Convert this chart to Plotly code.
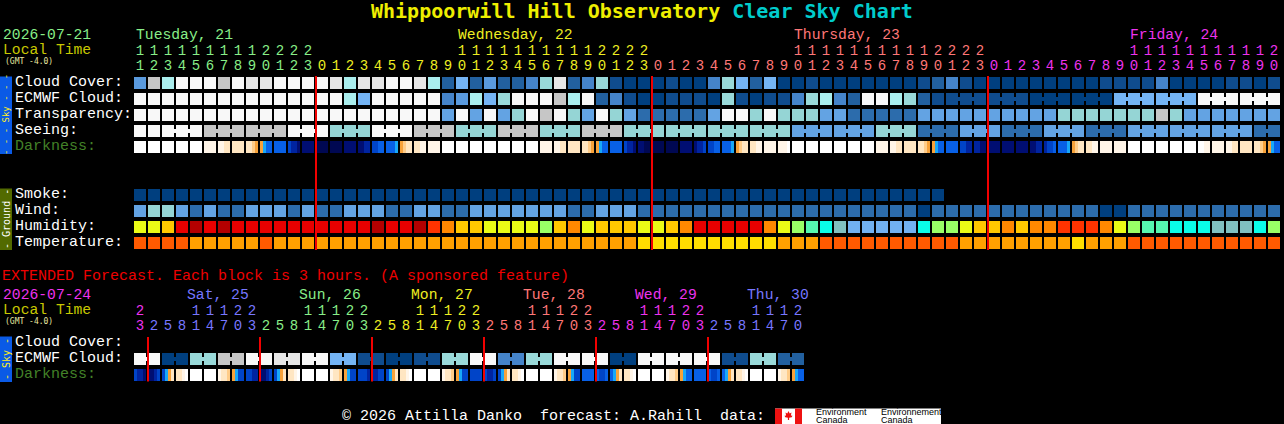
import plotly.graph_objects as go

# ---------------- data ----------------
TITLE_SITE = "Whippoorwill Hill Observatory"
TITLE_CHART = "Clear Sky Chart"
MAIN_DATE = "2026-07-21"
EXT_DATE = "2026-07-24"
TZ_LABEL = "(GMT -4.0)"
EXT_NOTE = "EXTENDED Forecast. Each block is 3 hours. (A sponsored feature)"
FOOTER = "\u00a9 2026 Attilla Danko  forecast: A.Rahill  data:"

main_days = ["Tuesday, 21", "Wednesday, 22", "Thursday, 23", "Friday, 24"]
main_day_hours = [list(range(11, 24)), list(range(0, 24)), list(range(0, 24)), list(range(0, 21))]
main_day_colors = ["#88EE88", "#EEEE22", "#FF7777", "#EE33EE"]

# cloud cover in tenths (0 clear .. 10 overcast)
cloud_cover = [
    4, 8, 7, 10, 10, 10, 8, 10, 9, 9, 10, 10, 10,
    10, 9, 7, 9, 9, 10, 10, 9, 7, 2, 5, 2, 4, 2, 2, 3, 6, 9, 2, 3, 6, 1, 0, 0,
    0, 1, 0, 0, 3, 6, 5, 2, 5, 0, 0, 1, 0, 0, 0, 0, 0, 0, 0, 1, 2, 3, 1, 0,
    0, 0, 0, 0, 0, 0, 0, 0, 1, 1, 1, 1, 3, 0, 0, 0, 0, 1, 1, 0, 1,
]
ecmwf_cloud = [
    10, 10, 10, 10, 10, 10, 10, 10, 10, 10, 10, 10, 10,
    10, 10, 7, 5, 10, 10, 10, 10, 10, 3, 4, 7, 5, 6, 10, 10, 10, 8, 7, 10, 2, 3, 1, 0,
    0, 1, 1, 1, 0, 6, 1, 0, 1, 1, 3, 6, 7, 3, 2, 10, 10, 7, 6, 2, 1, 1, 1, 1,
    1, 1, 1, 0, 0, 0, 0, 0, 0, 5, 5, 5, 5, 5, 5, 10, 10, 10, 10, 10, 10,
]
ecmwf_3h_start = 58          # ECMWF switches to 3-hour steps here
# transparency / seeing: 0 too cloudy, 1 poor/bad, 2 below avg/poor, 3 average, 4 above avg/good, 5 excellent
transparency = [
    0, 0, 0, 0, 0, 0, 0, 0, 0, 0, 0, 0, 0,
    0, 0, 0, 0, 0, 0, 0, 0, 0, 3, 0, 3, 0, 3, 2, 0, 1, 0, 2, 3, 0, 2, 3, 4,
    4, 4, 4, 4, 3, 0, 0, 2, 0, 2, 2, 2, 3, 3, 4, 4, 4, 4, 4, 3, 3, 3, 3, 3,
    3, 3, 3, 3, 3, 2, 2, 2, 2, 2, 2, 2, 1, 2, 3, 3, 3, 3, 3, 3, 3,
]
seeing = [
    0, 0, 0, 0, 0, 1, 1, 1, 1, 1, 1, 0, 0,
    0, 2, 2, 2, 0, 0, 0, 1, 1, 1, 2, 2, 2, 1, 1, 1, 2, 2, 2, 1, 1, 1, 2, 2,
    2, 2, 2, 2, 2, 2, 2, 2, 2, 2, 3, 3, 3, 3, 3, 3, 2, 2, 2, 4, 4, 4, 3, 3,
    3, 4, 4, 4, 3, 3, 3, 4, 4, 4, 3, 3, 3, 3, 3, 3, 3, 3, 3, 4, 4,
]
seeing_3h_start = 2
# darkness, 4 sub-steps per hour block (W day .. N darkest)
darkness = [
    "WWWW", "WWWW", "WWWW", "WWWW", "WWWW", "cccc", "ccCC", "CCCC", "CCoO", "Oybb", "bbbb", "Bddn", "nnnn",
    "NNNN", "NNNN", "nnnn", "nndd", "BBbb", "bbby", "OoCC", "CCcc", "cccc", "WWWW", "WWWW", "WWWW",
    "WWWW", "WWWW", "WWWW", "WWWW", "cccc", "ccCC", "CCCC", "CCoO", "Oybb", "bbbb", "Bddn", "nnNN",
    "NNNN", "NNNN", "nnnn", "nddB", "BBbb", "bbby", "OoCC", "CCcc", "cccc", "cccW", "WWWW", "WWWW",
    "WWWW", "WWWW", "WWWW", "WWWW", "cccc", "ccCC", "CCCC", "CCoO", "Oybb", "bbbb", "BBdd", "ddnn",
    "nnnn", "nnnn", "nnnn", "nndd", "dBBb", "bbby", "OoCC", "CCcc", "cccc", "cccc", "WWWW", "WWWW",
    "WWWW", "WWWW", "WWWW", "WWcc", "cccc", "ccCC", "CCCC", "CCoO", "Oybb",
]
smoke = [
    0, 0, 0, 0, 0, 0, 0, 0, 0, 0, 0, 0, 0,
    0, 0, 0, 0, 0, 0, 0, 0, 0, 0, 0, 0, 0, 0, 0, 0, 0, 0, 0, 0, 0, 0, 0, 0,
    0, 0, 0, 0, 0, 0, 0, 0, 0, 0, 0, 0, 0, 0, 0, 0, 0, 0, 0, 0, 0,
]
# wind band: 0 (0-5 mph), 1 (6-11), 2 (12-16), 3 (17-28)
wind = [
    2, 3, 3, 2, 1, 2, 1, 1, 2, 2, 2, 1, 2,
    1, 1, 2, 2, 2, 1, 1, 2, 2, 1, 1, 2, 2, 2, 2, 2, 2, 2, 1, 1, 2, 2, 2, 1,
    1, 1, 1, 1, 1, 1, 1, 1, 1, 1, 1, 1, 1, 1, 1, 1, 1, 1, 1, 0, 1, 1, 1, 1,
    1, 1, 1, 1, 1, 1, 1, 1, 0, 0, 1, 1, 1, 1, 1, 1, 1, 1, 1, 1, 1,
]
# relative humidity band (lower bound, %)
humidity = [
    65, 65, 70, 85, 90, 85, 90, 85, 85, 85, 85, 85, 85,
    85, 85, 85, 85, 90, 85, 85, 90, 80, 75, 70, 70, 65, 65, 65, 65, 60, 70, 75, 65, 70, 70, 70, 65,
    65, 70, 75, 85, 85, 85, 85, 85, 75, 65, 60, 55, 50, 45, 40, 40, 40, 40, 40, 50, 60, 60, 65, 70,
    70, 75, 70, 75, 75, 80, 80, 80, 75, 65, 60, 55, 55, 50, 50, 50, 45, 45, 45, 50, 60,
]
# temperature band (lower bound, F)
temperature = [
    86, 86, 86, 86, 77, 77, 77, 77, 77, 86, 77, 77, 77,
    77, 77, 77, 77, 77, 77, 77, 77, 77, 77, 77, 77, 77, 77, 77, 77, 77, 77, 77, 77, 77, 77, 77, 68,
    68, 68, 68, 68, 68, 68, 68, 68, 68, 77, 77, 77, 86, 86, 86, 86, 86, 86, 86, 86, 86, 86, 77, 77,
    77, 77, 77, 77, 77, 77, 68, 77, 77, 77, 86, 86, 86, 86, 86, 86, 86, 86, 86, 86, 86,
]

# extended forecast (3-hour blocks)
ext_days = ["", "Sat, 25", "Sun, 26", "Mon, 27", "Tue, 28", "Wed, 29", "Thu, 30"]
ext_day_hours = [[23], [2, 5, 8, 11, 14, 17, 20, 23], [2, 5, 8, 11, 14, 17, 20, 23],
                 [2, 5, 8, 11, 14, 17, 20, 23], [2, 5, 8, 11, 14, 17, 20, 23],
                 [2, 5, 8, 11, 14, 17, 20, 23], [2, 5, 8, 11, 14, 17, 20]]
ext_day_colors = ["#EE33EE", "#7777FF", "#88EE88", "#EEEE22", "#FF7777", "#EE33EE", "#7777FF"]
ext_ecmwf = [
    10, 10, 0, 0, 6, 6, 8, 8, 10, 10, 9, 9, 10, 10, 5, 5, 1, 1, 0, 0, 1, 1, 6, 6,
    10, 10, 3, 3, 6, 6, 10, 10, 10, 10, 0, 0, 10, 10, 10, 10, 10, 10, 1, 1, 6, 6, 2, 2,
]
ext_darkness = [
    "Bddn",
    "nndB", "ByOC", "CCcW", "WWWW", "WWWW", "cCCo", "OyBB", "BBdd",
    "nndB", "ByOC", "CCcW", "WWWW", "WWWW", "cCCo", "OyBB", "BBBd",
    "ddBB", "ByOC", "CCcW", "WWWW", "WWWW", "cCCo", "OyBB", "BBBB",
    "BddB", "ByOC", "CCcW", "WWWW", "WWWW", "cCCo", "OyBB", "bbbb",
    "bBBb", "byOC", "CCcW", "WWWW", "WWWW", "cCCo", "Oybb", "bbbb",
    "bBBb", "byOC", "CCcW", "WWWW", "WWWW", "cCCo", "Oybb",
]

# ---------------- palettes ----------------
cloud_colors = {0: "#003F7F", 1: "#0F4C8E", 2: "#22609F", 3: "#4584CA", 4: "#5A9ADE", 5: "#74B4F4",
                6: "#99D9D9", 7: "#AAEEEE", 8: "#C6C6C6", 9: "#E6E6E6", 10: "#F8F8F8"}
tq_colors = {0: "#F8F8F8", 1: "#C6C6C6", 2: "#95D5D5", 3: "#63A3E3", 4: "#2C6CAC", 5: "#003F7F"}
dark_colors = {"W": "#FFFFFF", "c": "#FFF5E8", "C": "#FFE6C2", "o": "#FFCC88", "O": "#F7A23A",
               "y": "#18A8F8", "b": "#0860E6", "B": "#0044C8", "d": "#0024A0", "n": "#000E72", "N": "#000852"}
smoke_colors = {0: "#003F7F"}
wind_colors = {0: "#003F7F", 1: "#2C6CAC", 2: "#63A3E3", 3: "#95D5D5"}
hum_colors = {40: "#71B1F1", 45: "#80C0C0", 50: "#0AFDE8", 55: "#55F7B0", 60: "#99FF66", 65: "#EAFB16",
              70: "#FFC800", 75: "#FF8800", 80: "#FF3300", 85: "#E80000", 90: "#B40000"}
temp_colors = {68: "#FFDD00", 77: "#FFA000", 86: "#FF5A00"}

# ---------------- layout constants ----------------
X0, PITCH, BW, BH = 134, 14, 12, 12
MONO = "Liberation Mono"
TITLE_FONT = "DejaVu Sans Mono"
W_, H_ = 1284, 424

fig = go.Figure()
palette = []


def pidx(c):
    if c not in palette:
        palette.append(c)
    return palette.index(c)


pending = []


def add_row(block_colors, top, connect=None):
    n = len(block_colors)
    sub = max(len(b) for b in block_colors)
    xe, full, mid = [], [], []
    for k, b in enumerate(block_colors):
        x0 = X0 + PITCH * k
        for s in range(sub):
            xe.append(x0 + BW * s / sub)
            v = pidx(b[s])
            full.append(v)
            mid.append(v)
        xe.append(x0 + BW)
        if k < n - 1:
            full.append(None)
            mid.append(pidx(b[-1]) if (connect is not None and connect[k]) else None)
    ye = [top, top + 4, top + 8, top + 12]
    pending.append((xe, ye, [full, mid, full]))


n_main = len(cloud_cover)
seeing_conn = [k >= seeing_3h_start and (k - seeing_3h_start) % 3 != 2 for k in range(n_main)]
ecmwf_conn = [k >= ecmwf_3h_start and (k - ecmwf_3h_start) % 3 != 2 for k in range(n_main)]

sky_tops = [77, 93, 109, 125, 141]
ground_tops = [189, 205, 221, 237]
ext_tops = [337, 353, 369]

add_row([[cloud_colors[v]] for v in cloud_cover], sky_tops[0])
add_row([[cloud_colors[v]] for v in ecmwf_cloud], sky_tops[1], ecmwf_conn)
add_row([[tq_colors[v]] for v in transparency], sky_tops[2])
add_row([[tq_colors[v]] for v in seeing], sky_tops[3], seeing_conn)
add_row([[dark_colors[ch] for ch in s] for s in darkness], sky_tops[4])
add_row([[smoke_colors[v]] for v in smoke], ground_tops[0])
add_row([[wind_colors[v]] for v in wind], ground_tops[1])
add_row([[hum_colors[v]] for v in humidity], ground_tops[2])
add_row([[temp_colors[v]] for v in temperature], ground_tops[3])
ext_conn = [k % 2 == 0 for k in range(len(ext_ecmwf))]
add_row([[cloud_colors[v]] for v in ext_ecmwf], ext_tops[1], ext_conn)
add_row([[dark_colors[ch] for ch in s] for s in ext_darkness], ext_tops[2])

N = len(palette)
cs = []
for i, c in enumerate(palette):
    cs.append([i / N, c])
    cs.append([(i + 1) / N, c])
for xe, ye, z in pending:
    zz = [[(v + 0.5) if v is not None else None for v in r] for r in z]
    fig.add_trace(go.Heatmap(x=xe, y=ye, z=zz, colorscale=cs, zmin=0, zmax=N, showscale=False,
                             hoverinfo="skip", zsmooth=False))

# ---------------- hour digits ----------------
def add_digits(day_hours, day_colors, y_top, y_bot):
    xs_t, ys_t, tx_t, col_t = [], [], [], []
    xs_b, ys_b, tx_b, col_b = [], [], [], []
    k = 0
    for hours, col in zip(day_hours, day_colors):
        for h in hours:
            xc = X0 + PITCH * k + BW / 2
            if h >= 10:
                xs_t.append(xc); ys_t.append(y_top); tx_t.append(str(h // 10)); col_t.append(col)
            xs_b.append(xc); ys_b.append(y_bot); tx_b.append(str(h % 10)); col_b.append(col)
            k += 1
    for xs, ys, tx, cl in ((xs_t, ys_t, tx_t, col_t), (xs_b, ys_b, tx_b, col_b)):
        fig.add_trace(go.Scatter(x=xs, y=ys, text=tx, mode="text", textposition="middle center",
                                 textfont=dict(family=MONO, size=14, color=cl), hoverinfo="skip"))


add_digits(main_day_hours, main_day_colors, 51, 66)
add_digits(ext_day_hours, ext_day_colors, 311, 326)


def ann(text, x, y, color, size, xanchor="left", family=MONO, **kw):
    fig.add_annotation(text=text, x=x, y=y, xref="x", yref="y", showarrow=False, xanchor=xanchor,
                       yanchor="middle", borderpad=0, font=dict(family=family, size=size, color=color), **kw)


# title
ann("<b>%s</b> <span style='color:#00CCCC'><b>%s</b></span>" % (TITLE_SITE, TITLE_CHART),
    W_ / 2, 10.5, "#EEEE00", 20, xanchor="center", family=TITLE_FONT)

# main header
ann(MAIN_DATE, 1.5, 35, "#88EE88", 14.7)
ann("Local Time", 1.5, 50, "#C8C800", 14.7)
ann(TZ_LABEL, 3.5, 61.5, "#E8E8A0", 8, family=TITLE_FONT)
k = 0
for name, hours, col in zip(main_days, main_day_hours, main_day_colors):
    first = next(i for i, h in enumerate(hours) if h >= 10)
    ann(name, X0 + PITCH * (k + first) + 0.5, 35, col, 14.7)
    k += len(hours)

# row labels
sky_labels = ["Cloud Cover:", "ECMWF Cloud:", "Transparency:", "Seeing:", "Darkness:"]
ground_labels = ["Smoke:", "Wind:", "Humidity:", "Temperature:"]
for lab, t in zip(sky_labels, sky_tops):
    ann(lab, 13.5, t + 5.5, "#438228" if lab == "Darkness:" else "#FFFFFF", 15)
for lab, t in zip(ground_labels, ground_tops):
    ann(lab, 13.5, t + 5.5, "#FFFFFF", 15)

# side bars
fig.add_shape(type="rect", x0=0, x1=12, y0=sky_tops[0] - 0.5, y1=sky_tops[-1] + BH + 1,
              fillcolor="#0A5AE6", line_width=0, layer="below")
fig.add_shape(type="rect", x0=0, x1=12, y0=ground_tops[0] - 0.5, y1=ground_tops[-1] + BH + 1,
              fillcolor="#526A00", line_width=0, layer="below")
fig.add_shape(type="rect", x0=0, x1=12, y0=ext_tops[0] - 0.5, y1=ext_tops[-1] + BH + 1,
              fillcolor="#0A5AE6", line_width=0, layer="below")
ann("- - - Sky - - -", 6, (sky_tops[0] + sky_tops[-1] + BH) / 2, "#FFEE22", 9, xanchor="center",
    textangle=-90, family=TITLE_FONT)
ann("- Ground -", 6, (ground_tops[0] + ground_tops[-1] + BH) / 2, "#FFFFFF", 10, xanchor="center",
    textangle=-90, family=TITLE_FONT)
ann("- Sky -", 6, (ext_tops[0] + ext_tops[-1] + BH) / 2, "#FFEE22", 10, xanchor="center",
    textangle=-90, family=TITLE_FONT)

# midnight lines (at the first block of each new day)
k = 0
for hours in main_day_hours[:-1]:
    k += len(hours)
    xm = X0 + PITCH * k
    fig.add_shape(type="line", x0=xm, x1=xm, y0=sky_tops[0] - 1, y1=ground_tops[-1] + BH + 1,
                  line=dict(color="#F20000", width=2), layer="above")
k = 0
for hours in ext_day_hours[:-1]:
    k += len(hours)
    xm = X0 + PITCH * k
    fig.add_shape(type="line", x0=xm, x1=xm, y0=ext_tops[0], y1=ext_tops[-1] + BH + 0.5,
                  line=dict(color="#F20000", width=2), layer="above")

# extended header
ann(EXT_NOTE, 0.5, 276, "#EE0000", 15)
ann(EXT_DATE, 1.5, 295, "#EE33EE", 14.7)
ann("Local Time", 1.5, 310, "#C8C800", 14.7)
ann(TZ_LABEL, 3.5, 321.7, "#E8E8A0", 8, family=TITLE_FONT)
k = 0
for name, hours, col in zip(ext_days, ext_day_hours, ext_day_colors):
    if name:
        first = hours.index(11)
        ann(name, X0 + PITCH * (k + first) - 4.5, 295, col, 14.7)
    k += len(hours)
for lab, t in zip(["Cloud Cover:", "ECMWF Cloud:", "Darkness:"], ext_tops):
    ann(lab, 13.5, t + 5.5, "#438228" if lab == "Darkness:" else "#FFFFFF", 15)

# footer
ann(FOOTER, 340.5, 416, "#FFFFFF", 15)
fx0, fx1, fy0, fy1 = 775, 802, 408.5, 424
fig.add_shape(type="rect", x0=fx0, x1=fx1, y0=fy0, y1=fy1, fillcolor="#FFFFFF", line_width=0)
fig.add_shape(type="rect", x0=fx0, x1=fx0 + 7, y0=fy0, y1=fy1, fillcolor="#EE1111", line_width=0)
fig.add_shape(type="rect", x0=fx1 - 7, x1=fx1, y0=fy0, y1=fy1, fillcolor="#EE1111", line_width=0)
cx, cy = (fx0 + fx1) / 2, 416
leaf = [(0, -5), (1.2, -2.6), (3, -3.4), (2.4, -0.4), (4, -0.2), (3.2, 1.2), (0.6, 1.8), (0.6, 4),
        (-0.6, 4), (-0.6, 1.8), (-3.2, 1.2), (-4, -0.2), (-2.4, -0.4), (-3, -3.4), (-1.2, -2.6)]
path = "M " + " L ".join("%.2f,%.2f" % (cx + dx, cy + dy) for dx, dy in leaf) + " Z"
fig.add_shape(type="path", path=path, fillcolor="#EE1111", line_width=0)
fig.add_shape(type="rect", x0=fx1, x1=941, y0=fy0, y1=fy1, fillcolor="#FFFFFF", line_width=0)
ann("Environment", 815, 411.5, "#000000", 9, family="Liberation Sans")
ann("Canada", 815, 420, "#000000", 9, family="Liberation Sans")
ann("Environnement", 880, 411.5, "#000000", 9, family="Liberation Sans")
ann("Canada", 880, 420, "#000000", 9, family="Liberation Sans")

fig.update_layout(
    width=W_, height=H_, margin=dict(l=0, r=0, t=0, b=0),
    paper_bgcolor="#000000", plot_bgcolor="#000000", showlegend=False,
    xaxis=dict(range=[0, W_], visible=False, fixedrange=True),
    yaxis=dict(range=[H_, 0], visible=False, fixedrange=True),
)
fig.write_html("out.html", config={"displayModeBar": False},
               post_script="document.body.style.margin='0';document.body.style.background='#000';")
